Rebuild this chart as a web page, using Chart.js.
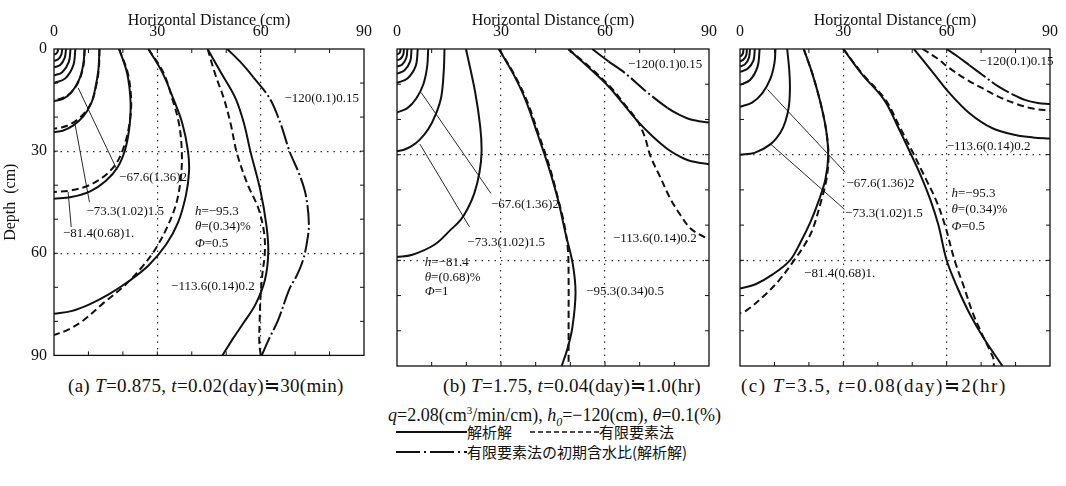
<!DOCTYPE html>
<html>
<head>
<meta charset="utf-8">
<script src="https://cdn.jsdelivr.net/npm/chart.js@4.4.1/dist/chart.umd.min.js"></script>
<style>
  body { margin: 0; background: #fff; }
  #wrap { position: relative; width: 1066px; height: 486px; overflow: hidden; font-family: "Liberation Serif", serif; color: #111; }
  canvas { position: absolute; top: 0; }
  .t { position: absolute; white-space: nowrap; font-size: 19px; line-height: 20px; letter-spacing: 0.3px; }
  .jp { position: absolute; white-space: nowrap; font-family: "Noto Sans CJK JP", sans-serif; font-size: 15px; line-height: 18px; }
  svg { position: absolute; }
</style>
</head>
<body>
<div id="wrap">
  <canvas id="pa" width="380" height="372" style="left:0"></canvas>
  <canvas id="pb" width="345" height="372" style="left:380px"></canvas>
  <canvas id="pc" width="341" height="372" style="left:725px"></canvas>

  <div class="t" style="left:68px;top:376px">(a) <i>T</i>=0.875, <i>t</i>=0.02(day)≒30(min)</div>
  <div class="t" style="left:443px;top:376px">(b) <i>T</i>=1.75, <i>t</i>=0.04(day)≒1.0(hr)</div>
  <div class="t" style="left:741px;top:376px;letter-spacing:1.5px">(c) <i>T</i>=3.5, <i>t</i>=0.08(day)≒2(hr)</div>
  <div class="t" style="left:388px;top:400px;font-size:18px;letter-spacing:0"><i>q</i>=2.08(cm<sup style="font-size:11px">3</sup>/min/cm), <i>h<sub style="font-size:12px">0</sub></i>=−120(cm), <i>θ</i>=0.1(%)</div>

  <svg style="left:396px;top:426px" width="72" height="12"><line x1="0" y1="6" x2="71" y2="6" stroke="#111" stroke-width="2"/></svg>
  <div class="jp" style="left:467px;top:423px">解析解</div>
  <svg style="left:530px;top:426px" width="70" height="12"><line x1="0" y1="6" x2="69" y2="6" stroke="#111" stroke-width="1.5" stroke-dasharray="5 3"/></svg>
  <div class="jp" style="left:599px;top:423px">有限要素法</div>
  <svg style="left:396px;top:446px" width="72" height="12"><line x1="0" y1="6" x2="71" y2="6" stroke="#111" stroke-width="2" stroke-dasharray="24 4 2 4"/></svg>
  <div class="jp" style="left:467px;top:443px">有限要素法の初期含水比(解析解)</div>
</div>

<script>
// axis labels
const xTicks = [0, 30, 60, 90];
const depthTicks = [0, 30, 60, 90];

// (a) T=0.875 — contours as [x (cm), depth (cm)]
const aSolid = [
  [[1.2, 0], [1.05, 0.8], [0.6, 1.4], [0, 1.6]],
  [[2.4, 0], [2.1, 1.7], [1.2, 3.0], [0, 3.5]],
  [[3.5, 0], [3.1, 2.6], [1.8, 4.7], [0, 5.4]],
  [[4.8, 0], [4.3, 3.8], [2.4, 6.8], [0, 7.8]],
  [[6.2, 0], [5.6, 4.8], [3.2, 8.7], [0, 10]],
  [[8.9, 0], [8.5, 4.5], [7.3, 9], [5, 12.8], [2.5, 14.7], [0, 15.3]],
  [[13.2, 0], [12.9, 6], [12, 11.5], [10.8, 16], [8.5, 19.8], [5.5, 22.5], [2.5, 24], [0, 24.4]],
  [[18.9, 0], [21.2, 7], [22.2, 15], [22, 22], [20.8, 29], [18.6, 34.5], [15, 38.8], [10.5, 41.8], [5, 43.5], [0, 44]],
  [[27.4, 0], [31.5, 7], [34.6, 14.5], [37.3, 22], [38.9, 30], [39.2, 36], [38.3, 43], [36, 51], [32.5, 57.5], [27.5, 63.5], [22, 68], [16, 72], [10.3, 75], [5, 77], [0, 77.8]],
  [[44.6, 0], [48.5, 7], [52.7, 14.5], [55.2, 22], [57, 30], [59.8, 41], [61.7, 52], [62.2, 60], [61.2, 68], [58.5, 75], [55, 80.5], [52, 85], [48.9, 90]]
];
const aDashed = [
  [[8.9, 0], [8.6, 4.5], [7.4, 9], [5.1, 12.6], [2.5, 14.4], [0, 15]],
  [[13.2, 0], [13, 6], [12.1, 11.5], [10.8, 15.8], [8.4, 19.3], [5.3, 21.8], [2.4, 23], [0, 23.4]],
  [[18.9, 0], [21.4, 7], [22.4, 15], [21.9, 22], [20.2, 29], [17.8, 34], [14, 37.8], [9.5, 40.3], [4.5, 41.6], [0, 42]],
  [[27.4, 0], [31.8, 7], [34.3, 14.5], [36.3, 22], [37.1, 30], [36.9, 37], [35.6, 45], [33, 52], [29.6, 58.5], [25.6, 64], [20.5, 69.5], [14.5, 74.5], [8.4, 79.8], [4, 82.5], [0, 84]],
  [[44.6, 0], [47, 8], [49.3, 14.5], [51.3, 22], [53.1, 30.6], [56.3, 40], [59.3, 46.7], [61, 54], [61.2, 60], [60.5, 66], [60, 72], [59.7, 80], [59.6, 86], [60, 90]]
];
const aDashDot = [
  [[50.3, 0], [54.3, 4], [57.9, 8.3], [62.6, 14.5], [65.8, 22], [68.4, 30.1], [71.3, 37], [73.1, 42.9], [74, 51.4], [73.4, 57], [72.3, 62], [70.5, 66.5], [68.4, 70.4], [65, 79.8], [62.5, 85], [60.3, 90]]
];
const aLeaders = [
  [[7, 11.4], [18.3, 35.5]],
  [[6.1, 22], [10.3, 45]],
  [[4.1, 42], [5, 52.3]]
];
const aNotes = [
  { x: 18.9, y: 37.8, t: '−67.6(1.36)2' },
  { x: 9.4, y: 47.7, t: '−73.3(1.02)1.5' },
  { x: 2.6, y: 54.3, t: '−81.4(0.68)1.' },
  { x: 40.9, y: 47.7, it: 'h', t: '=−95.3' },
  { x: 40.9, y: 52.3, it: 'θ', t: '=(0.34)%' },
  { x: 40.9, y: 57.1, it: 'Φ', t: '=0.5' },
  { x: 66.9, y: 14.5, t: '−120(0.1)0.15' },
  { x: 34, y: 69.9, t: '−113.6(0.14)0.2' }
];

// (b) T=1.75
const bSolid = [
  [[1, 0], [0.9, 0.8], [0.55, 1.3], [0, 1.5]],
  [[2, 0], [1.8, 1.6], [1.0, 2.8], [0, 3.2]],
  [[3, 0], [2.7, 2.5], [1.5, 4.4], [0, 5]],
  [[4.2, 0], [3.8, 3.5], [2.1, 6.1], [0, 7]],
  [[6, 0], [5.4, 4.8], [3, 8.4], [0, 9.6]],
  [[9, 0], [8.7, 5], [7.6, 10], [5.6, 14], [3, 16.8], [0, 18]],
  [[13.7, 0], [13.5, 6], [12.8, 13.4], [11.2, 18.5], [9, 22.8], [6.5, 25.8], [4.2, 27.6], [2, 28.6], [0, 29]],
  [[19.9, 0], [22.5, 12], [24, 22], [24.4, 29], [23.8, 35], [22.3, 41], [20.3, 45.5], [18.3, 48.6], [15.3, 51.5], [10.9, 55.5], [4.2, 58.5], [0, 59]],
  [[29.4, 0], [33.5, 7], [37.1, 14.5], [40.5, 24], [43.7, 33.4], [46.5, 43], [48.6, 52.3], [50.7, 61], [51.5, 69.3], [50.6, 79], [49.2, 85], [47.5, 90]],
  [[49.4, 0], [55, 5], [60.9, 10.5], [65.2, 15.5], [69.4, 20.5], [73.7, 24.8], [78, 28.4], [81.5, 30.5], [84.6, 31.8], [90, 32.7]]
];
const bDashed = [
  [[29.4, 0], [33.7, 7], [37.4, 14.5], [40.8, 24], [44, 33.4], [46.6, 43], [48.3, 50], [49.3, 57], [49.5, 65], [49.5, 75], [49.5, 90]],
  [[49.4, 0], [55.4, 5], [61.3, 10.5], [65.5, 15.5], [69.4, 20.5], [71.5, 25], [73.1, 30.4], [76, 36.5], [78.9, 42.6], [81.8, 47.2], [84.6, 50.9], [87.5, 52.8], [90, 54]]
];
const bDashDot = [
  [[56.3, 0], [61, 3.5], [65.6, 6.7], [72.3, 12.4], [78, 16.7], [81.5, 18.7], [84.7, 20], [90, 20.9]]
];
const bLeaders = [
  [[7, 12.4], [27.1, 41]],
  [[6.6, 27], [20.9, 50.5]]
];
const bNotes = [
  { x: 66.6, y: 4.5, t: '−120(0.1)0.15' },
  { x: 27.1, y: 44.3, t: '−67.6(1.36)2' },
  { x: 20.3, y: 55.1, t: '−73.3(1.02)1.5' },
  { x: 62.3, y: 53.7, t: '−113.6(0.14)0.2' },
  { x: 8, y: 60.5, it: 'h', t: '=−81.4' },
  { x: 8, y: 64.8, it: 'θ', t: '=(0.68)%' },
  { x: 8, y: 69, it: 'Φ', t: '=1' },
  { x: 54.6, y: 69, t: '−95.3(0.34)0.5' }
];

// (c) T=3.5
const cSolid = [
  [[1, 0], [0.9, 1.1], [0.5, 1.8], [0, 2.1]],
  [[2, 0], [1.8, 1.8], [1, 3.0], [0, 3.5]],
  [[2.9, 0], [2.6, 2.5], [1.5, 4.3], [0, 5]],
  [[4.3, 0], [3.9, 3.3], [2.2, 5.6], [0, 6.5]],
  [[5.7, 0], [5.1, 5], [2.9, 8.8], [0, 10.2]],
  [[10.3, 0], [10, 4], [8.8, 8.5], [6.5, 12.5], [3.5, 15.2], [0, 16.4]],
  [[13.7, 0], [14.3, 6], [14.5, 11], [14.2, 16.2], [13.2, 20.5], [11.7, 23.8], [8.9, 27], [4.2, 29.5], [0, 30]],
  [[18.5, 0], [21, 7], [23.3, 15], [25, 23], [25.6, 30.4], [24.8, 37], [23, 42.7], [20.5, 49], [17.5, 55], [14.5, 60], [9.5, 64], [4.5, 66.8], [0, 68]],
  [[30, 0], [35.2, 6.9], [41.9, 14.5], [45.8, 22], [49.5, 29.6], [52.5, 36], [55.3, 42.9], [57.6, 50], [60, 60], [63, 67.5], [66.6, 75], [71, 82.5], [76.2, 90]],
  [[50.5, 0], [56.2, 6.9], [60.9, 12.6], [66.7, 18.3], [73.3, 22.5], [80, 24.4], [85, 25.1], [90, 25.4]]
];
const cDashed = [
  [[18.5, 0], [21, 7], [23.3, 15], [25, 23], [25.7, 30.4], [25.1, 37], [23.6, 43], [21, 51.4], [18.5, 56], [15.7, 60], [11.4, 65.6], [6.5, 70.5], [1.9, 74.2], [0, 75]],
  [[30, 0], [35.4, 6.9], [42.3, 14.5], [46.3, 22], [50.3, 29.6], [53.5, 36], [56.9, 42.9], [59.5, 50], [62.3, 60], [65, 67.5], [67.6, 75], [70.3, 81], [72.5, 85.5], [73.6, 88], [73.7, 90]],
  [[53, 0], [57, 2.5], [60.9, 5.5], [65.5, 8.5], [70.5, 11.2], [75, 13.5], [80, 15.5], [85, 16.9], [90, 17.5]]
];
const cDashDot = [
  [[60, 0], [63, 2], [66.6, 4.6], [71, 7.8], [75.1, 10.7], [79, 12.8], [82.9, 14.5], [86.5, 15.3], [90, 15.6]]
];
const cLeaders = [
  [[8, 11.5], [30.5, 35]],
  [[8.9, 27], [30.3, 45.5]]
];
const cNotes = [
  { x: 69.4, y: 3.6, t: '−120(0.1)0.15' },
  { x: 60, y: 27.8, t: '−113.6(0.14)0.2' },
  { x: 30.9, y: 38.2, t: '−67.6(1.36)2' },
  { x: 30.5, y: 46.7, t: '−73.3(1.02)1.5' },
  { x: 61.4, y: 41, it: 'h', t: '=−95.3' },
  { x: 61.4, y: 45.7, it: 'θ', t: '=(0.34)%' },
  { x: 61.4, y: 50.5, it: 'Φ', t: '=0.5' },
  { x: 18.6, y: 63.7, t: '−81.4(0.68)1.' }
];

Chart.defaults.font.family = '"Liberation Serif", serif';
Chart.defaults.color = '#111';

const INK = '#111';
const DASH = [7, 4];
const DASHDOT = [20, 3, 2, 3];

// frame, inward tick marks and the in-plot annotations
const framePlugin = {
  id: 'frame',
  afterDatasetsDraw(chart, args, opts) {
    const { ctx, chartArea: a, scales: { x, y } } = chart;
    ctx.save();
    ctx.strokeStyle = INK;
    ctx.lineWidth = 1.3;
    ctx.strokeRect(a.left, a.top, a.right - a.left, a.bottom - a.top);
    ctx.lineWidth = 1;
    ctx.beginPath();
    for (let v = 10; v < 90; v += 10) {
      const px = x.getPixelForValue(v), py = y.getPixelForValue(v);
      ctx.moveTo(px, a.top); ctx.lineTo(px, a.top + 4);
      ctx.moveTo(px, a.bottom); ctx.lineTo(px, a.bottom - 4);
      ctx.moveTo(a.left, py); ctx.lineTo(a.left + 4, py);
      ctx.moveTo(a.right, py); ctx.lineTo(a.right - 4, py);
    }
    ctx.stroke();

    ctx.fillStyle = INK;
    ctx.textBaseline = 'middle';
    ctx.textAlign = 'left';
    (opts.notes || []).forEach(n => {
      let px = x.getPixelForValue(n.x);
      const py = y.getPixelForValue(n.y);
      if (n.it) {
        ctx.font = 'italic 13px "Liberation Serif"';
        ctx.fillText(n.it, px, py);
        px += ctx.measureText(n.it).width;
      }
      ctx.font = '13px "Liberation Serif"';
      ctx.fillText(n.t, px, py);
    });
    ctx.restore();
  }
};

const toPts = c => c.map(([x, y]) => ({ x, y }));
const gridColor = c => (c.tick && (c.tick.value === 30 || c.tick.value === 60)) ? '#333' : 'rgba(0,0,0,0)';

function buildPanel(id, p) {
  const datasets = [];
  p.solid.forEach(c => datasets.push({ data: toPts(c), borderWidth: 2, tension: 0.35 }));
  p.dashed.forEach(c => datasets.push({ data: toPts(c), borderWidth: 2, borderDash: DASH, tension: 0.35 }));
  p.dashDot.forEach(c => datasets.push({
    data: toPts(c), borderWidth: 2, tension: 0.35,
    segment: { borderDash: s => (s.p0DataIndex < p.solidHead || s.p0DataIndex >= p.solidTail) ? [] : DASHDOT }
  }));
  p.leaders.forEach(c => datasets.push({ data: toPts(c), borderWidth: 0.9, tension: 0 }));
  datasets.forEach(d => Object.assign(d, { showLine: true, pointRadius: 0, borderColor: INK, fill: false }));

  new Chart(document.getElementById(id), {
    type: 'scatter',
    data: { datasets },
    plugins: [framePlugin],
    options: {
      responsive: false,
      animation: false,
      devicePixelRatio: 1,
      layout: { padding: { left: 0, top: 0, right: p.padR, bottom: 6 } },
      plugins: { legend: { display: false }, tooltip: { enabled: false }, frame: { notes: p.notes } },
      scales: {
        x: {
          type: 'linear', position: 'top', min: 0, max: 90,
          ticks: { stepSize: 10, autoSkip: false, maxRotation: 0, padding: 8, font: { size: 16 },
                   callback: v => xTicks.includes(v) ? String(v) : '' },
          grid: { drawTicks: false, color: gridColor, lineWidth: 1.2 },
          border: { display: false, dash: [1.5, 5] },
          title: { display: true, text: 'Horizontal Distance (cm)', font: { size: 16 }, padding: { top: 11, bottom: 0 } },
          afterFit: s => { s.height = 49; }
        },
        y: {
          type: 'linear', reverse: true, min: 0, max: 90,
          ticks: { display: p.yLabels, stepSize: 10, autoSkip: false, padding: 7, font: { size: 16 },
                   callback: v => depthTicks.includes(v) ? String(v) : '' },
          grid: { drawTicks: false, color: gridColor, lineWidth: 1.2 },
          border: { display: false, dash: [1.5, 5] },
          title: { display: p.yLabels, text: 'Depth  (cm)', font: { size: 16 }, padding: { top: 1, bottom: 0 } },
          afterFit: s => { s.width = p.axisW; }
        }
      }
    }
  });
}

buildPanel('pa', { solid: aSolid, dashed: aDashed, dashDot: aDashDot, leaders: aLeaders, notes: aNotes,
                   solidHead: 2, solidTail: 99, yLabels: true, axisW: 54, padR: 11 });
buildPanel('pb', { solid: bSolid, dashed: bDashed, dashDot: bDashDot, leaders: bLeaders, notes: bNotes,
                   solidHead: 1, solidTail: 4, yLabels: false, axisW: 17, padR: 13 });
buildPanel('pc', { solid: cSolid, dashed: cDashed, dashDot: cDashDot, leaders: cLeaders, notes: cNotes,
                   solidHead: 2, solidTail: 5, yLabels: false, axisW: 15, padR: 11 });
</script>
</body>
</html>
